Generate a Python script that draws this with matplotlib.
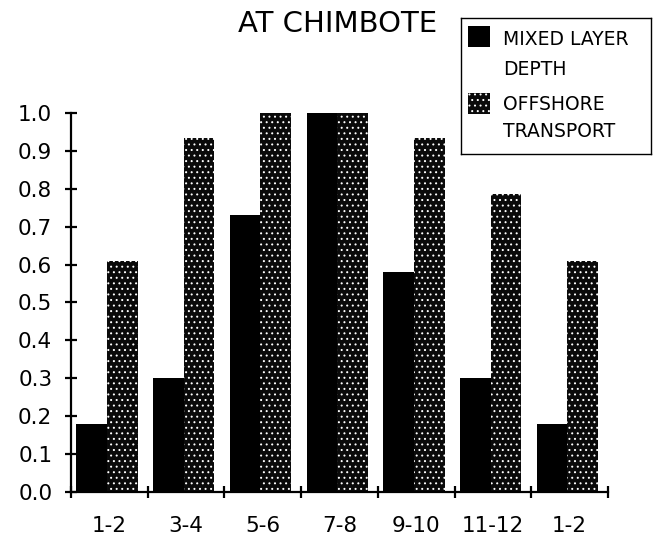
import matplotlib
matplotlib.use("Agg")
import matplotlib.pyplot as plt
from matplotlib.patches import Rectangle
import numpy as np

# data
periods = ["1-2", "3-4", "5-6", "7-8", "9-10", "11-12", "1-2"]
mixed_layer_depth = [0.18, 0.30, 0.73, 1.00, 0.58, 0.30, 0.18]
offshore_transport = [0.61, 0.935, 1.00, 1.00, 0.935, 0.785, 0.61]
yticks = [0.0, 0.1, 0.2, 0.3, 0.4, 0.5, 0.6, 0.7, 0.8, 0.9, 1.0]

plt.rcParams["font.family"] = "DejaVu Sans"
plt.rcParams["hatch.linewidth"] = 0.7

fig = plt.figure(figsize=(6.6, 5.38), dpi=100)
ax = fig.add_axes([0.1076, 0.0855, 0.8136, 0.7045])

x = np.arange(len(periods))
width = 0.40
ax.bar(x + 0.07, mixed_layer_depth, width, align="edge",
       color="black", linewidth=0, clip_on=False)
ax.bar(x + 0.07 + width, offshore_transport, width, align="edge",
       facecolor="#0a0a0a", edgecolor="white", hatch="...",
       linewidth=0, clip_on=False)

ax.set_xlim(0, len(periods))
ax.set_ylim(0, 1.0)

for side in ["top", "right"]:
    ax.spines[side].set_visible(False)
for side in ["left", "bottom"]:
    ax.spines[side].set_linewidth(1.6)

ax.set_yticks(yticks)
ax.set_yticklabels([f"{v:.1f}" for v in yticks])
ax.set_xticks(np.arange(len(periods) + 1))
ax.set_xticklabels([])
ax.set_xticks(x + 0.5, minor=True)
ax.set_xticklabels(periods, minor=True)
ax.tick_params(axis="both", which="major", direction="inout",
               length=9, width=1.6, labelsize=15.5)
ax.tick_params(axis="x", which="minor", length=0, pad=17, labelsize=15.5)
ax.tick_params(axis="y", pad=9)

fig.text(0.511, 0.955, "AT CHIMBOTE", ha="center", va="center", fontsize=21)

# legend box drawn as a small axes
lax = fig.add_axes([0.698, 0.714, 0.288, 0.2525])
lax.set_xlim(0, 190)
lax.set_ylim(136, 0)
lax.set_xticks([])
lax.set_yticks([])
for s in lax.spines.values():
    s.set_linewidth(1.0)
lax.add_patch(Rectangle((7, 8), 22, 21, facecolor="black", linewidth=0))
lax.add_patch(Rectangle((7, 75), 22, 21, facecolor="#0a0a0a",
                        edgecolor="white", hatch="...", linewidth=0))
labels = [("MIXED LAYER", 22), ("DEPTH", 52), ("OFFSHORE", 87), ("TRANSPORT", 114)]
for txt, yy in labels:
    lax.text(42, yy, txt, ha="left", va="center", fontsize=13.5)

fig.savefig("out.png", dpi=100)
